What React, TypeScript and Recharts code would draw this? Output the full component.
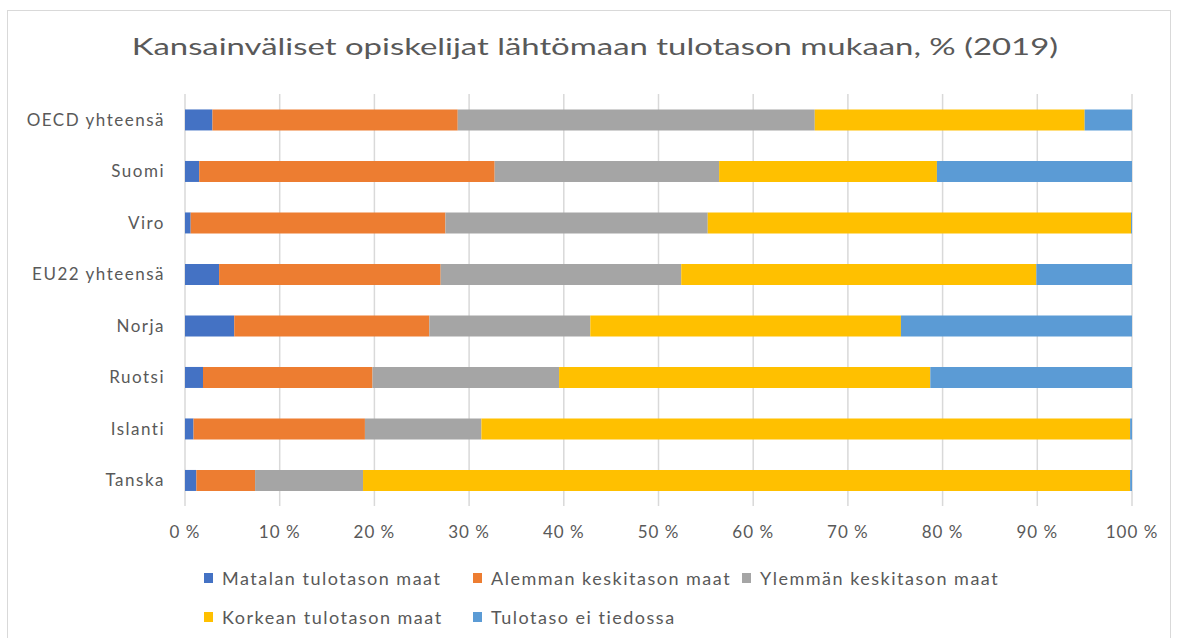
import { BarChart, Bar, XAxis, YAxis, CartesianGrid, Legend } from 'recharts'

const maat = ['OECD yhteensä', 'Suomi', 'Viro', 'EU22 yhteensä', 'Norja', 'Ruotsi', 'Islanti', 'Tanska']
const matalan = [2.9, 1.5, 0.6, 3.6, 5.2, 1.9, 0.9, 1.2]
const alemman = [25.9, 31.2, 26.9, 23.4, 20.6, 17.9, 18.1, 6.2]
const ylemman = [37.7, 23.7, 27.7, 25.4, 17.0, 19.7, 12.3, 11.4]
const korkean = [28.5, 23.0, 44.7, 37.5, 32.8, 39.2, 68.5, 81.0]
const eiTiedossa = [5.0, 20.6, 0.1, 10.1, 24.4, 21.3, 0.2, 0.2]
const xTicks = [0, 10, 20, 30, 40, 50, 60, 70, 80, 90, 100]

const sarjat = [
	{ key: 'matalan', nimi: 'Matalan tulotason maat', vari: '#4472C4', arvot: matalan },
	{ key: 'alemman', nimi: 'Alemman keskitason maat', vari: '#ED7D31', arvot: alemman },
	{ key: 'ylemman', nimi: 'Ylemmän keskitason maat', vari: '#A5A5A5', arvot: ylemman },
	{ key: 'korkean', nimi: 'Korkean tulotason maat', vari: '#FFC000', arvot: korkean },
	{ key: 'eiTiedossa', nimi: 'Tulotaso ei tiedossa', vari: '#5B9BD5', arvot: eiTiedossa },
]

const data = maat.map((maa, i) => {
	const rivi: Record<string, any> = { maa }
	sarjat.forEach(s => { rivi[s.key] = s.arvot[i] })
	return rivi
})

const fontti = 'Lato, "Open Sans", sans-serif'
const tekstiVari = '#595959'

// oma selite, kolme saraketta kuten Excelissä
function Selite() {
	return (
		<div style={{ position: 'relative', width: 1177, height: 80, fontFamily: fontti }}>
			{sarjat.map((s, i) => (
				<div
					key={s.key}
					style={{
						position: 'absolute',
						left: 204 + (i % 3) * 269,
						top: 21 + Math.floor(i / 3) * 39,
						display: 'flex',
						alignItems: 'center',
						fontSize: 18,
						letterSpacing: 1.5,
						color: tekstiVari,
						whiteSpace: 'nowrap',
					}}
				>
					<span style={{ display: 'inline-block', width: 9, height: 10, background: s.vari, marginRight: 9 }} />
					{s.nimi}
				</div>
			))}
		</div>
	)
}

export default function App() {
	return (
		<div style={{ position: 'absolute', left: 0, top: 0, width: 1177, height: 638, background: '#fff', overflow: 'hidden' }}>
			<div style={{ position: 'absolute', left: 7, top: 10, width: 1162, height: 660, border: '1px solid #D9D9D9' }} />
			<div
				style={{
					position: 'absolute',
					left: 0,
					top: 35,
					width: 1190,
					textAlign: 'center',
					fontFamily: fontti,
					fontSize: 23,
					lineHeight: 1,
					color: tekstiVari,
				}}
			>
				<span style={{ display: 'inline-block', transform: 'scaleX(1.43)', transformOrigin: 'center' }}>
					Kansainväliset opiskelijat lähtömaan tulotason mukaan, % (2019)
				</span>
			</div>
			<div style={{ position: 'absolute', left: 0, top: 0 }}>
				<BarChart
					width={1177}
					height={638}
					data={data}
					layout="vertical"
					margin={{ top: 94, right: 45, bottom: 12, left: 0 }}
					barCategoryGap="30%"
				>
					<CartesianGrid horizontal={false} stroke="#D9D9D9" strokeWidth={1.5} />
					<XAxis
						type="number"
						domain={[0, 100]}
						ticks={xTicks}
						tickFormatter={(v: number) => `${v} %`}
						axisLine={false}
						tickLine={false}
						height={40}
						tick={{ fill: tekstiVari, fontSize: 17, fontFamily: fontti, letterSpacing: 1 }}
						tickMargin={14}
					/>
					<YAxis
						type="category"
						dataKey="maa"
						width={185}
						axisLine={false}
						tickLine={false}
						tick={{ fill: tekstiVari, fontSize: 17, fontFamily: fontti, letterSpacing: 1.5 }}
						tickMargin={14}
					/>
					<Legend verticalAlign="bottom" content={() => <Selite />} />
					{sarjat.map(s => (
						<Bar key={s.key} dataKey={s.key} name={s.nimi} stackId="a" fill={s.vari} isAnimationActive={false} />
					))}
				</BarChart>
			</div>
		</div>
	)
}
